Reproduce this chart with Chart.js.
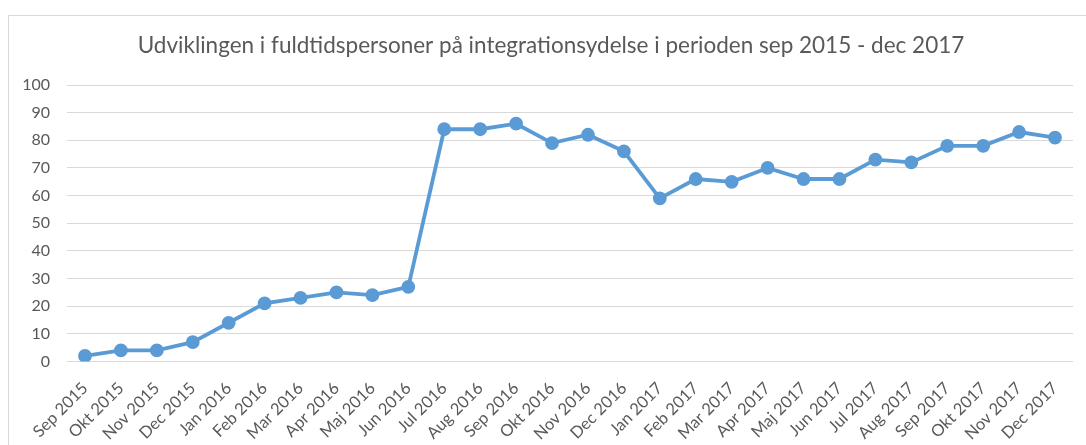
<!DOCTYPE html>
<html><head><meta charset="utf-8">
<script src="https://cdn.jsdelivr.net/npm/chart.js@4.4.0/dist/chart.umd.min.js"></script>
<style>
html,body{margin:0;padding:0;background:#fff;overflow:hidden}
#wrap{position:relative;width:1086px;height:445px}
#frame{position:absolute;left:8px;top:15px;width:1200px;height:600px;border-top:1px solid #d9d9d9;border-left:1px solid #d9d9d9}
canvas{position:absolute;left:0;top:0}
</style></head>
<body><div id="wrap"><div id="frame"></div><canvas id="c" width="1086" height="445"></canvas></div>
<script>
const categories = ["Sep 2015","Okt 2015","Nov 2015","Dec 2015","Jan 2016","Feb 2016","Mar 2016","Apr 2016","Maj 2016","Jun 2016","Jul 2016","Aug 2016","Sep 2016","Okt 2016","Nov 2016","Dec 2016","Jan 2017","Feb 2017","Mar 2017","Apr 2017","Maj 2017","Jun 2017","Jul 2017","Aug 2017","Sep 2017","Okt 2017","Nov 2017","Dec 2017"];
const values = [2,4,4,7,14,21,23,25,24,27,84,84,86,79,82,76,59,66,65,70,66,66,73,72,78,78,83,81];
const yTicks = [0,10,20,30,40,50,60,70,80,90,100];
const titleText = "Udviklingen i fuldtidspersoner på integrationsydelse i perioden sep 2015 - dec 2017";

const FONT = "Lato";
const grey = "#595959";
const shiftTitle = {
  id: 'shiftTitle',
  afterLayout(chart) { const t = chart.titleBlock; if (t) { t.left += 10.5; t.right += 10.5; } }
};
new Chart(document.getElementById('c'), {
  type: 'line',
  data: { labels: categories, datasets: [{
    data: values, borderColor: "#5B9BD5", backgroundColor: "#5B9BD5",
    borderWidth: 3.8, pointRadius: 5, pointHoverRadius: 5, tension: 0, fill: false
  }]},
  plugins: [shiftTitle],
  options: {
    responsive: false, animation: false,
    layout: { padding: { left: 8, right: 13, top: 0, bottom: 0 } },
    plugins: {
      legend: { display: false }, tooltip: { enabled: false },
      title: { display: true, text: titleText, color: grey,
        font: { family: FONT, size: 22.5, weight: 'normal' }, padding: { top: 32, bottom: 26 } }
    },
    scales: {
      x: { offset: true, grid: { display: false }, border: { display: false },
        ticks: { color: grey, font: { family: FONT, size: 16.5 }, maxRotation: 45, minRotation: 45, autoSkip: false, padding: 9 },
        afterFit: s => { s.height = 445 - 361.5; } },
      y: { min: 0, max: 100, grid: { color: "#d9d9d9", drawTicks: false }, border: { display: false },
        afterBuildTicks: s => { s.ticks = yTicks.map(v => ({ value: v })); },
        ticks: { color: grey, font: { family: FONT, size: 16 }, padding: 17 },
        afterFit: s => { s.width = 67 - 8; } }
    }
  }
});
</script></body></html>
